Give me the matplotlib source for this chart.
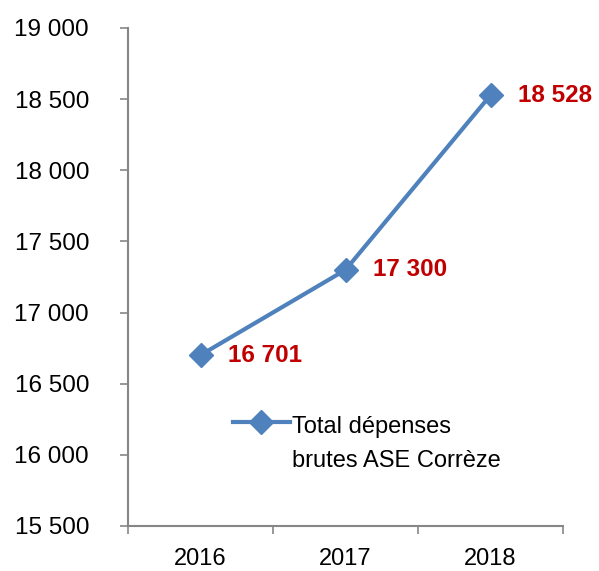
import matplotlib
matplotlib.use("Agg")
import matplotlib.pyplot as plt
from matplotlib.ticker import FixedLocator, FuncFormatter
from matplotlib.legend_handler import HandlerLine2D

years = ["2016", "2017", "2018"]
values = [16701, 17300, 18528]
value_labels = ["16 701", "17 300", "18 528"]
yticks = [15500, 16000, 16500, 17000, 17500, 18000, 18500, 19000]
series_name = "Total dépenses\nbrutes ASE Corrèze"

plt.rcParams['font.family'] = ['Liberation Sans', 'DejaVu Sans']

W, H = 599, 571
fig = plt.figure(figsize=(W/100, H/100), dpi=100)
ax = fig.add_axes([128/W, 1-526/H, (563-128)/W, (526-28)/H])

x = list(range(len(years)))
line, = ax.plot(x, values, color='#4F81BD', lw=3, marker='D', ms=12,
                mec='#4F81BD', mfc='#4F81BD', label=series_name)

for xi, v, lab in zip(x, values, value_labels):
    ax.annotate(lab, (xi, v), xytext=(20, 0), textcoords='offset points',
                color='#C00000', fontweight='bold', fontsize=17.5, va='center', ha='left')

ax.set_xlim(-0.5, 2.5)
ax.set_ylim(15500, 19000)
ax.set_yticks(yticks)
ax.yaxis.set_major_formatter(FuncFormatter(lambda v, p: f"{int(v):,}".replace(",", " ")))
ax.set_xticks(x)
ax.set_xticklabels(years)
ax.xaxis.set_minor_locator(FixedLocator([-0.5, 0.5, 1.5, 2.5]))
ax.tick_params(axis='x', which='major', length=0, pad=16, labelsize=17)
ax.tick_params(axis='x', which='minor', length=6, width=1.2, color='#868686', direction='out')
ax.tick_params(axis='y', length=6, width=1.2, color='#868686', direction='out', pad=22, labelsize=17.5)

for s in ['top', 'right']:
    ax.spines[s].set_visible(False)
for s in ['left', 'bottom']:
    ax.spines[s].set_color('#868686')
    ax.spines[s].set_linewidth(1.5)


class ShiftedLine(HandlerLine2D):
    def create_artists(self, legend, orig_handle, xdescent, ydescent, width, height, fontsize, trans):
        return super().create_artists(legend, orig_handle, xdescent, ydescent - 32,
                                      width, height, fontsize, trans)


leg = ax.legend(loc='upper left', bbox_to_anchor=((233-128)/(563-128), 1-(416-28)/(526-28)),
                frameon=False, fontsize=17, handlelength=2.4, handletextpad=0.1,
                labelspacing=0.2, borderpad=0, borderaxespad=0,
                handler_map={line: ShiftedLine(marker_pad=0)})
for t in leg.get_texts():
    t.set_linespacing(1.7)

fig.savefig("out.png", dpi=100)
